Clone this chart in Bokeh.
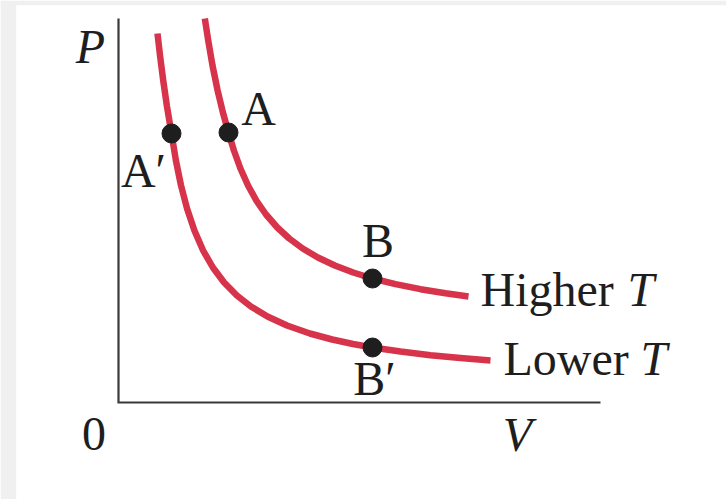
from bokeh.plotting import figure
from bokeh.models import Range1d, ColumnDataSource
from bokeh.core.properties import value
from bokeh.embed import file_html
from bokeh.resources import INLINE

# Isotherms on a P-V diagram (arbitrary units)
v_high = [2.158, 2.243, 2.350, 2.478, 2.610, 2.750, 2.885, 3.048, 3.238, 3.445, 3.688,
          3.970, 4.268, 4.605, 4.985, 5.408, 5.868, 6.350, 6.925, 7.550, 8.175, 8.750]
p_high = [9.600, 9.050, 8.425, 7.800, 7.250, 6.750, 6.300, 5.850, 5.425, 5.050, 4.700,
          4.375, 4.100, 3.850, 3.625, 3.425, 3.250, 3.100, 2.958, 2.833, 2.730, 2.650]

v_low = [0.975, 1.038, 1.118, 1.208, 1.325, 1.435, 1.563, 1.713, 1.898, 2.115, 2.360, 2.640,
         2.960, 3.310, 3.725, 4.213, 4.785, 5.343, 5.863, 6.350, 7.050, 7.800, 8.550, 9.300]
p_low = [9.225, 8.675, 8.050, 7.425, 6.725, 6.050, 5.425, 4.850, 4.300, 3.800, 3.375, 3.000,
         2.675, 2.400, 2.150, 1.925, 1.725, 1.575, 1.463, 1.375, 1.273, 1.183, 1.110, 1.050]

# Marked states
state_names = ["A", "A\u2032", "B", "B\u2032"]
state_v = [2.75, 1.325, 6.35, 6.35]
state_p = [6.75, 6.725, 3.10, 1.375]

# Axis extents
v_axis_max = 12.05
p_axis_max = 9.60

RED = "#d7334a"
INK = "#1e1e1e"
SERIF = value("Liberation Serif")
FS = "48px"

p = figure(width=726, height=499, output_backend="svg", toolbar_location=None,
           x_range=Range1d(-2.55, 15.2), y_range=Range1d(-2.425, 9.925),
           min_border_left=16, min_border_top=5, min_border_right=0, min_border_bottom=0)
p.border_fill_color = "#f0f0f0"
p.background_fill_color = "white"
p.outline_line_color = None
p.axis.visible = False
p.grid.visible = False

# Axes drawn as an L-shaped line
p.line([0, 0, v_axis_max], [p_axis_max, 0, 0], line_color="#3a3a3a", line_width=2.2,
       line_join="miter")

# Isotherms
p.line(v_high, p_high, line_color=RED, line_width=6.5, line_join="round", line_cap="butt")
p.line(v_low, p_low, line_color=RED, line_width=6.5, line_join="round", line_cap="butt")

# State points
p.scatter(state_v, state_p, size=19, color=INK, line_color=INK)

# State labels, placed next to each point
label_src = ColumnDataSource(dict(
    x=[3.5, 0.625, 6.49, 6.40],
    y=[7.35, 5.80, 4.05, 0.60],
    t=state_names,
))
p.text(x="x", y="y", text="t", source=label_src, text_font=SERIF, text_font_size=FS,
       text_align="center", text_baseline="alphabetic", text_color=INK)

# Curve names
p.text(x=[9.05, 9.625], y=[2.825, 1.10], text=["Higher", "Lower"], text_font=SERIF,
       text_font_size=FS, text_align="left", text_baseline="alphabetic", text_color=INK)
p.text(x=[12.725, 13.05], y=[2.825, 1.10], text=["T", "T"], text_font=SERIF,
       text_font_size=FS, text_font_style="italic", text_align="left",
       text_baseline="alphabetic", text_color=INK)

# Axis labels and origin
p.text(x=[-0.7, 9.975], y=[8.90, -0.80], text=["P", "V"], text_font=SERIF,
       text_font_size=FS, text_font_style="italic", text_align="center",
       text_baseline="alphabetic", text_color=INK)
p.text(x=[-0.6125], y=[-0.775], text=["0"], text_font=SERIF, text_font_size=FS,
       text_align="center", text_baseline="alphabetic", text_color=INK)

open("out.html", "w").write(file_html(p, INLINE))
